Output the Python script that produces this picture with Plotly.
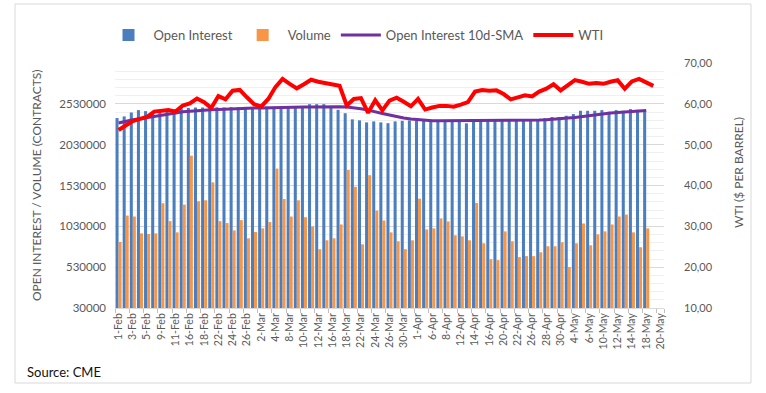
import plotly.graph_objects as go

dates = ["1-Feb","2-Feb","3-Feb","4-Feb","5-Feb","8-Feb","9-Feb","10-Feb","11-Feb","12-Feb",
         "16-Feb","17-Feb","18-Feb","19-Feb","22-Feb","23-Feb","24-Feb","25-Feb","26-Feb",
         "1-Mar","2-Mar","3-Mar","4-Mar","5-Mar","8-Mar","9-Mar","10-Mar","11-Mar","12-Mar",
         "15-Mar","16-Mar","17-Mar","18-Mar","19-Mar","22-Mar","23-Mar","24-Mar","25-Mar","26-Mar",
         "29-Mar","30-Mar","31-Mar","1-Apr","5-Apr","6-Apr","7-Apr","8-Apr","9-Apr",
         "12-Apr","13-Apr","14-Apr","15-Apr","16-Apr","19-Apr","20-Apr","21-Apr","22-Apr","23-Apr",
         "26-Apr","27-Apr","28-Apr","29-Apr","30-Apr","3-May","4-May","5-May","6-May","7-May",
         "10-May","11-May","12-May","13-May","14-May","17-May","18-May","19-May","20-May"]

open_interest = [2356000,2376000,2424000,2453000,2441000,2424000,2436000,2440000,2461000,2478000,
                 2480000,2485000,2485000,2482000,2488000,2486000,2490000,2488000,2492000,
                 2490000,2494000,2496000,2494000,2497000,2495000,2485000,2488000,2526000,2526000,
                 2526000,2490000,2457000,2415000,2340000,2328000,2303000,2315000,2303000,2293000,
                 2315000,2322000,2326000,2322000,2325000,2320000,2324000,2322000,2326000,
                 2323000,2291000,2324000,2324000,2322000,2325000,2324000,2322000,2324000,2325000,
                 2324000,2336000,2356000,2369000,2369000,2384000,2405000,2445000,2445000,2445000,
                 2453000,2433000,2453000,2445000,2466000,2457000,2453000,None,None]

volume = [839000,1162000,1150000,944000,936000,944000,1313000,1094000,956000,1296000,
          1895000,1337000,1349000,1568000,1094000,1070000,980000,1106000,883000,
          961000,1005000,1082000,1737000,1365000,1150000,1349000,1142000,1029000,750000,
          859000,883000,1053000,1720000,1514000,810000,1656000,1223000,1102000,956000,
          847000,750000,859000,1369000,992000,1005000,1126000,1090000,920000,
          907000,859000,1316000,822000,628000,616000,968000,847000,653000,665000,
          665000,713000,786000,786000,835000,531000,822000,1065000,798000,932000,
          968000,1053000,1150000,1174000,956000,774000,1005000,None,None]

oi_sma = [2296000,2320000,2336000,2348000,2360000,2381000,2393000,2405000,2417000,2433000,
          2441000,2449000,2453000,2457000,2461000,2466000,2469000,2473000,2473000,
          2478000,2478000,2481000,2485000,2490000,2490000,2494000,2492000,2492000,2494000,
          2494000,2494000,2494000,2490000,2481000,2469000,2453000,2437000,2412000,2393000,
          2372000,2356000,2344000,2336000,2328000,2324000,2324000,2324000,2324000,
          2324000,2324000,2324000,2324000,2324000,2324000,2324000,2324000,2324000,2328000,
          2328000,2332000,2336000,2340000,2348000,2356000,2364000,2376000,2389000,2401000,
          2409000,2417000,2425000,2433000,2441000,2445000,2449000,None,None]

wti = [53.6,54.8,55.8,56.3,56.8,58.1,58.4,58.5,58.1,59.6,
       60.1,61.3,60.4,59.0,61.9,61.1,63.2,63.4,61.6,
       59.9,59.3,61.2,64.1,66.1,64.9,63.8,64.8,65.9,65.4,
       65.1,64.8,64.4,59.6,61.2,61.4,57.8,60.9,58.4,60.8,
       61.5,60.5,59.4,61.2,58.6,59.1,59.5,59.5,59.3,
       59.8,60.4,63.0,63.4,63.2,63.3,62.4,61.1,61.6,62.1,
       61.8,63.0,63.7,64.8,63.3,64.5,65.8,65.4,64.9,65.1,
       64.9,65.4,65.8,63.7,65.5,66.1,65.3,64.4,None]

left_ticks = [30000, 530000, 1030000, 1530000, 2030000, 2530000]
right_ticks = [10, 20, 30, 40, 50, 60, 70]
right_tick_text = ["10,00", "20,00", "30,00", "40,00", "50,00", "60,00", "70,00"]

FONT = "Lato, 'Open Sans', sans-serif"
GREY = "#595959"

fig = go.Figure()
fig.add_trace(go.Bar(x=dates, y=open_interest, name="Open Interest",
                     marker=dict(color="#4A7EBF", line=dict(width=0))))
fig.add_trace(go.Bar(x=dates, y=volume, name="Volume",
                     marker=dict(color="#F79646", line=dict(width=0))))
fig.add_trace(go.Scatter(x=dates, y=oi_sma, name="Open Interest 10d-SMA", mode="lines",
                         line=dict(color="#7030A0", width=3)))
fig.add_trace(go.Scatter(x=dates, y=wti, name="WTI", mode="lines", yaxis="y2",
                         line=dict(color="#FF0000", width=4)))

L, R, T, B = 115, 102, 63, 85
W, H = 766, 393
pw = W - L - R
ph = H - T - B

def px(x):
    return (x - L) / pw

def py(y):
    return (H - B - y) / ph

fig.update_layout(
    width=W, height=H,
    margin=dict(l=L, r=R, t=T, b=B, pad=0),
    paper_bgcolor="white", plot_bgcolor="white",
    font=dict(family=FONT, color=GREY, size=12),
    barmode="group", bargap=0.15, bargroupgap=0.0,
    showlegend=True,
    legend=dict(orientation="h", x=px(356), xanchor="center", y=py(35), yanchor="middle",
                font=dict(size=13, color=GREY), itemwidth=40, traceorder="normal",
                bgcolor="rgba(0,0,0,0)"),
    xaxis=dict(type="category", categoryorder="array", categoryarray=dates,
               range=[-0.5, len(dates) - 0.5],
               tickmode="array", tickvals=dates[::2], ticktext=dates[::2],
               tickangle=-90, tickfont=dict(size=10.5, color=GREY),
               ticks="outside", ticklen=4, tickcolor="#bfbfbf", tickson="boundaries",
               showline=True, linecolor="#d9d9d9", linewidth=1,
               showgrid=False, zeroline=False),
    yaxis=dict(range=[30000, 3030000], tickmode="array", tickvals=left_ticks,
               ticktext=[str(v) for v in left_ticks],
               tickfont=dict(size=11.5, color=GREY), ticks="", ticklabelstandoff=8,
               showgrid=True, gridcolor="#d9d9d9", gridwidth=1,
               minor=dict(tick0=30000, dtick=100000, showgrid=True, gridcolor="#f0f0f0", gridwidth=1),
               zeroline=False, showline=False),
    yaxis2=dict(range=[10, 70], overlaying="y", side="right", tickmode="array",
                tickvals=right_ticks, ticktext=right_tick_text,
                tickfont=dict(size=11, color=GREY), ticks="", ticklabelstandoff=19,
                showgrid=False, zeroline=False, showline=False),
)

fig.add_annotation(text="OPEN INTEREST / VOLUME (CONTRACTS)", xref="paper", yref="paper",
                   x=px(36), y=py(185), textangle=-90, showarrow=False,
                   font=dict(size=12, color=GREY), xanchor="center", yanchor="middle")
fig.add_annotation(text="WTI ($ PER BARREL)", xref="paper", yref="paper",
                   x=px(738), y=py(173), textangle=-90, showarrow=False,
                   font=dict(size=12, color=GREY), xanchor="center", yanchor="middle")
fig.add_annotation(text="Source: CME", xref="paper", yref="paper",
                   x=px(25), y=py(372), showarrow=False, xanchor="left", yanchor="middle",
                   font=dict(size=13, color="#111111"))
fig.add_shape(type="rect", xref="paper", yref="paper",
              x0=px(15), x1=px(751), y0=py(383), y1=py(4),
              line=dict(color="#d9d9d9", width=1), fillcolor="rgba(0,0,0,0)", layer="below")

fig.write_html("out.html", config={"displayModeBar": False},
               post_script="document.body.style.margin='0';document.body.style.padding='0';")
